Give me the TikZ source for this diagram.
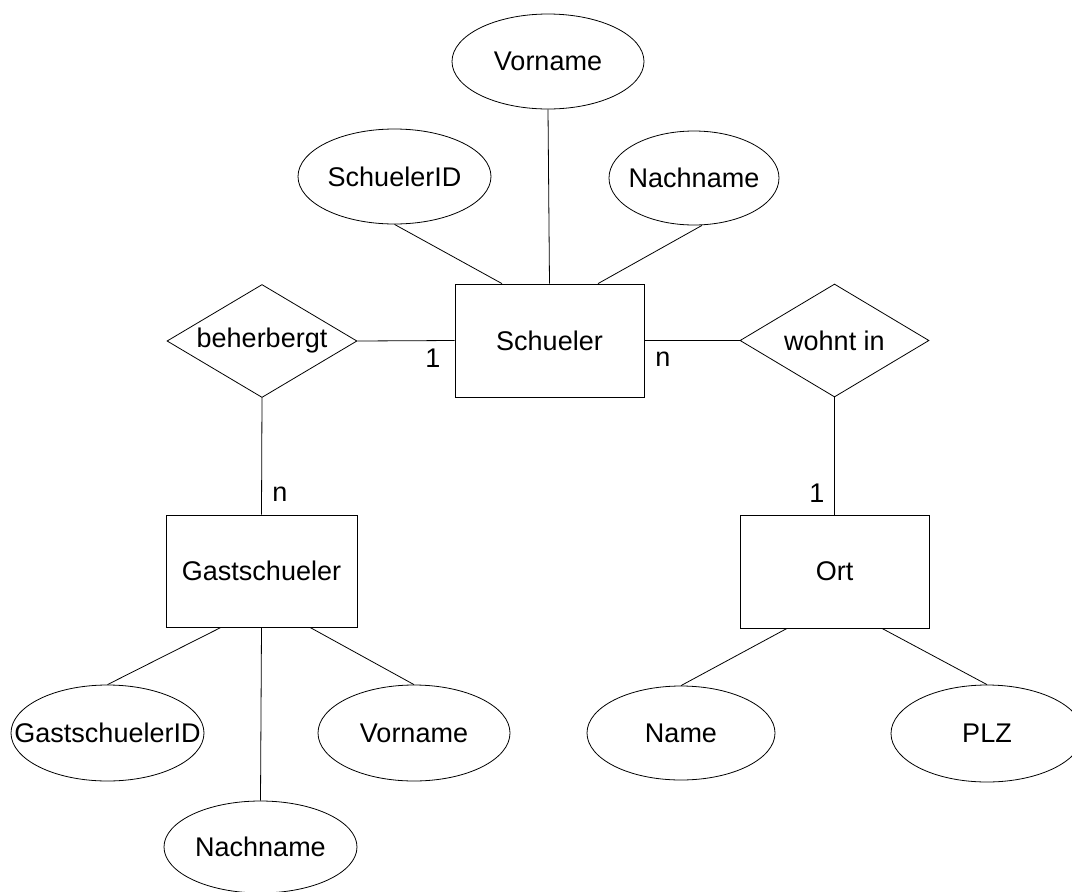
\documentclass[tikz,border=0pt]{standalone}
\usepackage{fontspec}
\setmainfont{Liberation Sans}
\usetikzlibrary{shapes.geometric}
\begin{document}
\begin{tikzpicture}[x=1pt,y=-1pt,
  every node/.style={font=\fontsize{27}{32}\selectfont, inner sep=0pt},
  attr/.style={draw, ellipse, line width=0.8pt, minimum width=193pt, minimum height=95pt},
  entity/.style={draw, rectangle, line width=0.8pt, minimum width=189pt, minimum height=113pt},
  rel/.style={draw, diamond, line width=0.8pt, minimum width=190pt, minimum height=113pt},
  conn/.style={line width=0.8pt}]
\fill[white] (0,0) rectangle (1072,892);
\useasboundingbox (0,0) rectangle (1072,892);

% entities
\node[entity] (schueler) at (549.5,340.5) {Schueler};
\node[entity, minimum width=191pt, minimum height=112pt] (gast) at (261.5,571) {Gastschueler};
\node[entity] (ort) at (834.5,571.5) {Ort};

% relationships
\node[rel] (beh) at (262,341) {\makebox[0pt]{beherbergt}};
\node[rel, minimum width=189pt] (wohnt) at (834.5,340.5) {\makebox[0pt]{wohnt in}};

% attributes
\node[attr, minimum width=192pt] (vorname1) at (548,61.5) {\makebox[0pt]{Vorname}};
\node[attr] (sid) at (394.5,176.5) {\makebox[0pt]{SchuelerID}};
\node[attr, minimum width=170pt, minimum height=94pt] (nach1) at (694,178) {\makebox[0pt]{Nachname}};
\node[attr, minimum height=96pt] (gid) at (107.5,733) {\makebox[0pt]{GastschuelerID}};
\node[attr, minimum width=192pt, minimum height=96pt] (vorname2) at (414,733) {\makebox[0pt]{Vorname}};
\node[attr, minimum height=92pt] (nach2) at (260.5,847) {\makebox[0pt]{Nachname}};
\node[attr, minimum width=188pt, minimum height=94pt] (name) at (681,733) {\makebox[0pt]{Name}};
\node[attr, minimum width=192pt, minimum height=97pt] (plz) at (987,733.5) {\makebox[0pt]{PLZ}};

% connectors
\draw[conn] (sid.south) -- ([xshift=-47.5pt]schueler.north);
\draw[conn] (vorname1.south) -- (schueler.north);
\draw[conn] ([xshift=8pt]nach1.south) -- ([xshift=48.5pt]schueler.north);
\draw[conn] (beh.east) -- (schueler.west);
\draw[conn] (schueler.east) -- (wohnt.west);
\draw[conn] (beh.south) -- (gast.north);
\draw[conn] (wohnt.south) -- (ort.north);
\draw[conn] ([xshift=-40.5pt]gast.south) -- (gid.north);
\draw[conn] (gast.south) -- (nach2.north);
\draw[conn] ([xshift=48.5pt]gast.south) -- (vorname2.north);
\draw[conn] ([xshift=-47.5pt]ort.south) -- (name.north);
\draw[conn] ([xshift=47.5pt]ort.south) -- (plz.north);

% cardinalities
\node (c1) at (433,358) {1};
\node (c2) at (663,359) {n};
\node (c3) at (280,494) {n};
\node (c4) at (817,493) {1};
\end{tikzpicture}
\end{document}
